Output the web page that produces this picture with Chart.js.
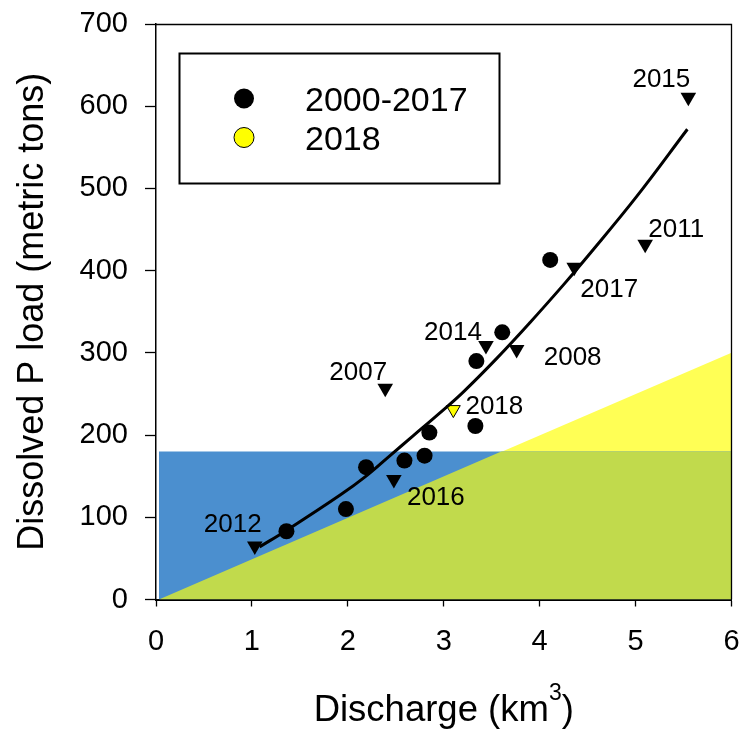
<!DOCTYPE html>
<html>
<head>
<meta charset="utf-8">
<script src="https://cdn.jsdelivr.net/npm/chart.js@4.4.1/dist/chart.umd.min.js"></script>
<style>
  html, body { margin: 0; padding: 0; background: #fff; }
  #wrap { width: 746px; height: 730px; position: relative; }
</style>
</head>
<body>
<div id="wrap"><canvas id="myChart"></canvas></div>
<script>
// données
const circleX = [1.36, 1.98, 2.19, 2.59, 2.80, 2.85, 3.33, 3.34, 3.61, 4.11];
const circleY = [83, 110, 161, 169, 175, 203, 211, 290, 325, 413];

const triYears = ['2012', '2016', '2007', '2014', '2008', '2017', '2011', '2015'];
const triX = [1.03, 2.48, 2.39, 3.44, 3.76, 4.36, 5.10, 5.55];
const triY = [65, 146, 257, 309, 304, 404, 432, 611];

const y2018X = [3.10];
const y2018Y = [231];

// courbe de tendance
const curveX = [1.08, 1.36, 1.92, 2.20, 2.44, 2.68, 2.96, 3.20, 3.55, 3.90, 4.25, 4.49, 5.01, 5.54];
const curveY = [64, 84, 127, 151, 175, 199, 227, 252, 293, 337, 383, 416, 490, 572];

// zones colorées
const yellowX = [0.03, 6];
const yellowY = [0, 300];
const blueX = [0.03, 6];
const blueY = [180, 180];
const greenX = [0.03, 3.6, 6];
const greenY = [0, 180, 180];

const xTicks = [0, 1, 2, 3, 4, 5, 6];
const yTicks = [0, 100, 200, 300, 400, 500, 600, 700];

const legendLabels = ['2000-2017', '2018'];

const FONT = "'Liberation Sans', Arial, sans-serif";

const pts = (xs, ys) => xs.map((x, i) => ({x: x, y: ys[i]}));

// décalage des étiquettes (pixels, par rapport au point)
const labelOffsets = {
  '2012': [-22, -14], '2016': [42, 26], '2007': [-27, -8], '2014': [-33, -5],
  '2008': [56, 15], '2017': [35, 30], '2011': [31, -7], '2015': [-27, -10],
  '2018': [41, 4]
};

const extras = {
  id: 'extras',
  afterDatasetsDraw(chart) {
    const ctx = chart.ctx;
    const xs = chart.scales.x, ys = chart.scales.y;
    const a = chart.chartArea;
    ctx.save();
    // cadre haut et droite
    ctx.strokeStyle = '#000';
    ctx.lineWidth = 1.3;
    ctx.beginPath();
    ctx.moveTo(a.left, a.top + 0.5);
    ctx.lineTo(a.right, a.top + 0.5);
    ctx.lineTo(a.right, a.bottom);
    ctx.stroke();

    // années
    ctx.fillStyle = '#000';
    ctx.font = '26px ' + FONT;
    ctx.textAlign = 'center';
    ctx.textBaseline = 'alphabetic';
    triYears.forEach((yr, i) => {
      const o = labelOffsets[yr];
      ctx.fillText(yr, xs.getPixelForValue(triX[i]) + o[0], ys.getPixelForValue(triY[i]) + o[1]);
    });
    const o18 = labelOffsets['2018'];
    ctx.fillText('2018', xs.getPixelForValue(y2018X[0]) + o18[0], ys.getPixelForValue(y2018Y[0]) + o18[1]);

    // légende
    ctx.lineWidth = 2;
    ctx.strokeRect(179.5, 53.5, 320, 130);
    ctx.beginPath();
    ctx.arc(244, 98.5, 10, 0, Math.PI * 2);
    ctx.fillStyle = '#000';
    ctx.fill();
    ctx.beginPath();
    ctx.arc(244, 137.5, 10, 0, Math.PI * 2);
    ctx.fillStyle = '#ffff00';
    ctx.fill();
    ctx.lineWidth = 1;
    ctx.stroke();
    ctx.fillStyle = '#000';
    ctx.font = '34px ' + FONT;
    ctx.textAlign = 'left';
    ctx.fillText(legendLabels[0], 305, 111);
    ctx.fillText(legendLabels[1], 305, 149.5);

    // titres des axes
    ctx.font = '36.5px ' + FONT;
    ctx.textAlign = 'left';
    const t1 = 'Discharge (km', t2 = '3', t3 = ')';
    const w1 = ctx.measureText(t1).width;
    const w3 = ctx.measureText(t3).width;
    ctx.font = '23px ' + FONT;
    const w2 = ctx.measureText(t2).width;
    const cx = (a.left + a.right) / 2;
    let x0 = cx - (w1 + w2 + w3) / 2;
    ctx.font = '36.5px ' + FONT;
    ctx.fillText(t1, x0, 721);
    ctx.font = '23px ' + FONT;
    ctx.fillText(t2, x0 + w1, 700);
    ctx.font = '36.5px ' + FONT;
    ctx.fillText(t3, x0 + w1 + w2, 721);

    ctx.font = '36px ' + FONT;
    ctx.translate(43, (a.top + a.bottom) / 2);
    ctx.rotate(-Math.PI / 2);
    ctx.textAlign = 'center';
    ctx.fillText('Dissolved P load (metric tons)', 0, 0);
    ctx.restore();
  }
};

new Chart(
  document.getElementById('myChart'),
  {
    type: 'scatter',
    data: {
      datasets: [
        {
          // courbe
          type: 'line',
          data: pts(curveX, curveY),
          borderColor: '#000',
          borderWidth: 3,
          pointRadius: 0,
          tension: 0.4,
          fill: false
        },
        {
          data: pts(circleX, circleY),
          pointRadius: 8,
          pointHoverRadius: 8,
          pointBackgroundColor: '#000',
          pointBorderColor: '#000',
          pointBorderWidth: 0
        },
        {
          data: pts(triX, triY),
          pointStyle: 'triangle',
          rotation: 180,
          pointRadius: 9,
          pointHoverRadius: 9,
          pointBackgroundColor: '#000',
          pointBorderColor: '#000',
          pointBorderWidth: 0
        },
        {
          data: pts(y2018X, y2018Y),
          pointStyle: 'triangle',
          rotation: 180,
          pointRadius: 8,
          pointHoverRadius: 8,
          pointBackgroundColor: '#ffff00',
          pointBorderColor: '#000',
          pointBorderWidth: 1
        },
        {
          // zone verte
          type: 'line',
          data: pts(greenX, greenY),
          borderWidth: 0,
          pointRadius: 0,
          tension: 0,
          fill: 'origin',
          backgroundColor: '#c1da4c'
        },
        {
          // zone bleue
          type: 'line',
          data: pts(blueX, blueY),
          borderWidth: 0,
          pointRadius: 0,
          tension: 0,
          fill: 'origin',
          backgroundColor: '#4b8fcf'
        },
        {
          // zone jaune
          type: 'line',
          data: pts(yellowX, yellowY),
          borderWidth: 0,
          pointRadius: 0,
          tension: 0,
          fill: 'origin',
          backgroundColor: '#ffff55'
        }
      ]
    },
    options: {
      responsive: true,
      maintainAspectRatio: false,
      animation: false,
      layout: {
        padding: {top: 24, right: 14.5, left: 0, bottom: 0}
      },
      scales: {
        x: {
          type: 'linear',
          min: 0,
          max: 6,
          afterFit: (s) => { s.height = 130.5; s.paddingLeft = 0; s.paddingRight = 0; },
          afterBuildTicks: (s) => { s.ticks = xTicks.map(v => ({value: v})); },
          border: {display: true, color: '#000', width: 2},
          grid: {
            drawOnChartArea: false,
            drawTicks: true,
            tickLength: 7,
            color: '#000',
            tickWidth: 1.3
          },
          ticks: {
            color: '#000',
            font: {size: 29, family: FONT},
            padding: 18,
            maxRotation: 0
          }
        },
        y: {
          min: 0,
          max: 700,
          afterFit: (s) => { s.width = 156; s.paddingTop = 0; s.paddingBottom = 0; },
          afterBuildTicks: (s) => { s.ticks = yTicks.map(v => ({value: v})); },
          border: {display: true, color: '#000', width: 1.5},
          grid: {
            drawOnChartArea: false,
            drawTicks: true,
            tickLength: 11,
            color: '#000',
            tickWidth: 1.3
          },
          ticks: {
            color: '#000',
            font: {size: 29, family: FONT},
            padding: 17
          }
        }
      },
      plugins: {
        legend: {display: false},
        tooltip: {enabled: false}
      }
    },
    plugins: [extras]
  }
);
</script>
</body>
</html>
